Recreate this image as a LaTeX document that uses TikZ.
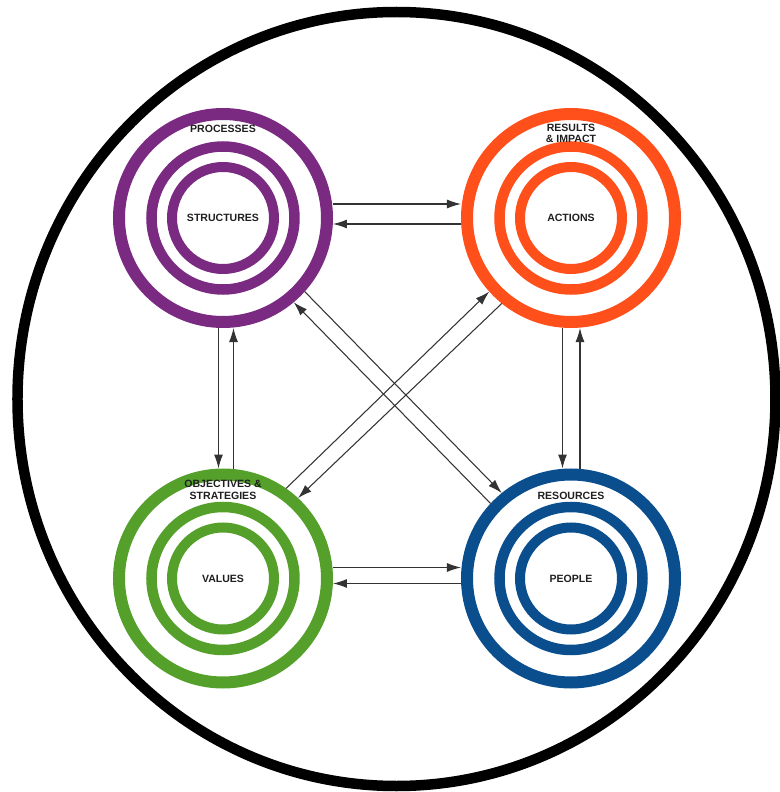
\documentclass[tikz,border=0pt]{standalone}
\usepackage{fontspec}
\newfontfamily\lblfont{Liberation Sans}
\usetikzlibrary{arrows.meta}
\definecolor{procpurple}{HTML}{7B2A82}
\definecolor{actorange}{HTML}{FF4F1A}
\definecolor{valgreen}{HTML}{55A02B}
\definecolor{resblue}{HTML}{0A4E8E}
\tikzset{
  ringout/.style={circle, draw, line width=0.24cm, minimum size=4.16cm, inner sep=0pt},
  ringmid/.style={circle, draw, line width=0.21cm, minimum size=2.86cm, inner sep=0pt},
  ringin/.style={circle, draw, line width=0.2cm, minimum size=2.04cm, inner sep=0pt},
  lbl/.style={font=\lblfont\bfseries\fontsize{6}{6.6}\selectfont, text=black!88, align=center, inner sep=0pt},
  link/.style={draw=black!80, line width=0.6pt, -{Latex[length=2.8mm,width=1.8mm]}}
}
\begin{document}
\begin{tikzpicture}
  \useasboundingbox (-7.98,-7.86) rectangle (7.62,7.98);
  \draw[line width=0.21cm] (-0.05,0) ellipse (7.58 and 7.74);
  \foreach \n/\c/\x/\y in {proc/procpurple/-3.52/3.62, act/actorange/3.44/3.62,
                           val/valgreen/-3.52/-3.59, res/resblue/3.44/-3.59} {
    \node[ringout, draw=\c] (\n) at (\x,\y) {};
    \node[ringmid, draw=\c] (\n mid) at (\x,\y) {};
    \node[ringin, draw=\c] (\n in) at (\x,\y) {};
  }
  \node[lbl] (proclbl) at ([yshift=1.78cm]proc.center) {PROCESSES};
  \node[lbl] (actlbl) at ([yshift=1.69cm]act.center) {RESULTS\\\& IMPACT};
  \node[lbl] (vallbl) at ([yshift=1.77cm]val.center) {OBJECTIVES \&\\STRATEGIES};
  \node[lbl] (reslbl) at ([yshift=1.66cm]res.center) {RESOURCES};
  \node[lbl] (proccore) at (proc) {STRUCTURES};
  \node[lbl] (actcore) at (act) {ACTIONS};
  \node[lbl] (valcore) at (val) {VALUES};
  \node[lbl] (rescore) at (res) {PEOPLE};
  \draw[link] ([yshift=0.28cm]proc.east) -- ([yshift=0.28cm]act.west);
  \draw[link] ([yshift=-0.12cm]act.west) -- ([yshift=-0.12cm]proc.east);
  \draw[link] ([yshift=0.22cm]val.east) -- ([yshift=0.22cm]res.west);
  \draw[link] ([yshift=-0.1cm]res.west) -- ([yshift=-0.1cm]val.east);
  \draw[link] ([xshift=-0.09cm]proc.south) -- ([xshift=-0.09cm]val.north);
  \draw[link] ([xshift=0.21cm]val.north) -- ([xshift=0.21cm]proc.south);
  \draw[link] ([xshift=-0.17cm]act.south) -- ([xshift=-0.17cm]res.north);
  \draw[link] ([xshift=0.18cm]res.north) -- ([xshift=0.18cm]act.south);
  \draw[link] (proc.-42) -- (res.129);
  \draw[link] (res.137) -- (proc.-50);
  \draw[link] (val.55) -- (act.-138);
  \draw[link] (act.-129) -- (val.47);
\end{tikzpicture}
\end{document}
